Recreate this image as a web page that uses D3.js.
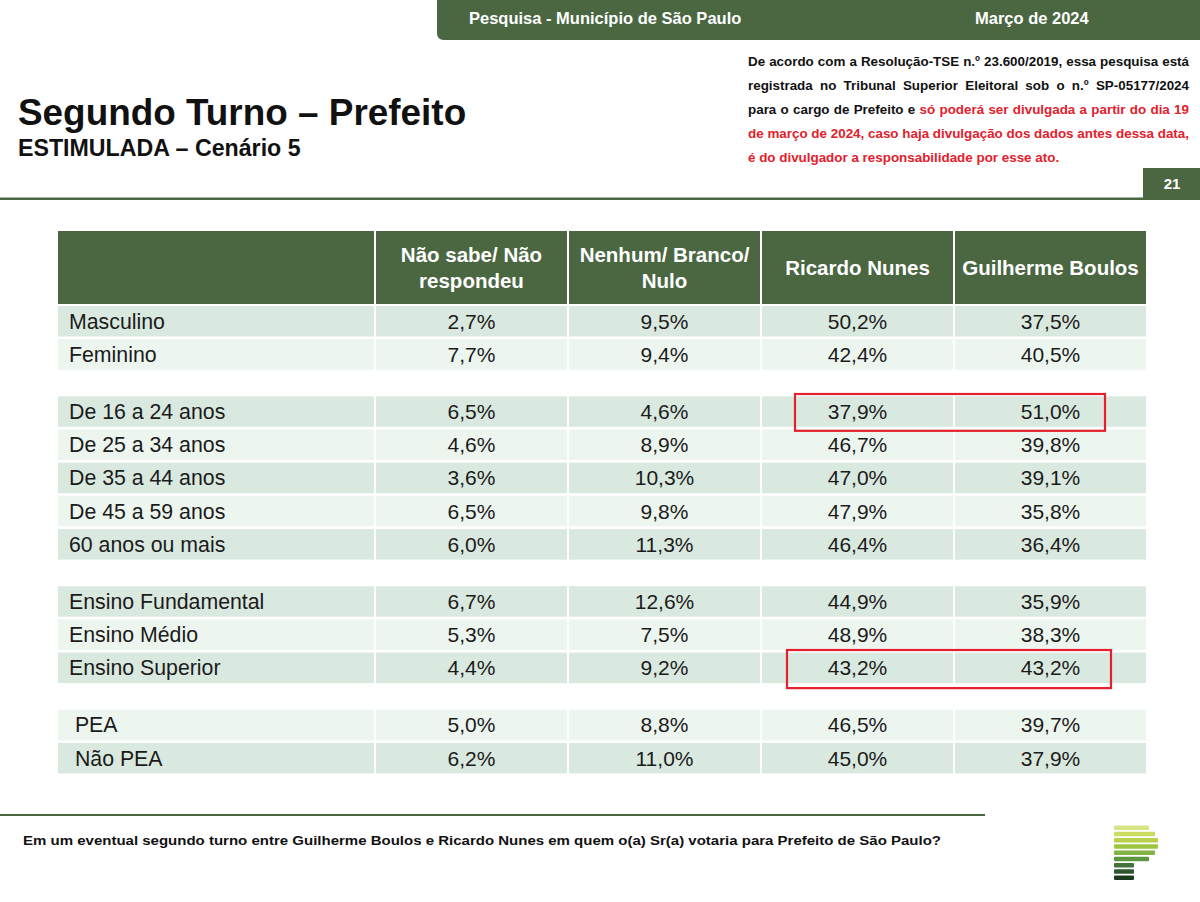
<!DOCTYPE html>
<html>
<head>
<meta charset="utf-8">
<script src="https://cdn.jsdelivr.net/npm/d3@7"></script>
<style>
  html, body { margin: 0; padding: 0; background: #ffffff; }
  svg { display: block; font-family: "Liberation Sans", Arial, sans-serif; }
</style>
</head>
<body>
<svg id="chart" width="1200" height="902"></svg>
<script>
// ---------- DATA ----------
const categories = ["Masculino", "Feminino",
  "De 16 a 24 anos", "De 25 a 34 anos", "De 35 a 44 anos", "De 45 a 59 anos", "60 anos ou mais",
  "Ensino Fundamental", "Ensino Médio", "Ensino Superior",
  " PEA", " Não PEA"];
const groupIndex = [0, 0, 1, 1, 1, 1, 1, 2, 2, 2, 3, 3];
const rowTone = [1, 0, 1, 0, 1, 0, 1, 1, 0, 1, 0, 1];
const seriesNames = ["Não sabe/ Não respondeu", "Nenhum/ Branco/ Nulo", "Ricardo Nunes", "Guilherme Boulos"];
const headerLines = [["Não sabe/ Não", "respondeu"], ["Nenhum/ Branco/", "Nulo"], ["Ricardo Nunes"], ["Guilherme Boulos"]];
const naoSabe = [2.7, 7.7, 6.5, 4.6, 3.6, 6.5, 6.0, 6.7, 5.3, 4.4, 5.0, 6.2];
const nenhum  = [9.5, 9.4, 4.6, 8.9, 10.3, 9.8, 11.3, 12.6, 7.5, 9.2, 8.8, 11.0];
const nunes   = [50.2, 42.4, 37.9, 46.7, 47.0, 47.9, 46.4, 44.9, 48.9, 43.2, 46.5, 45.0];
const boulos  = [37.5, 40.5, 51.0, 39.8, 39.1, 35.8, 36.4, 35.9, 38.3, 43.2, 39.7, 37.9];
const highlightRows = [2, 9];

const title = "Segundo Turno – Prefeito";
const subtitle = "ESTIMULADA – Cenário 5";
const headerLeft = "Pesquisa - Município de São Paulo";
const headerRight = "Março de 2024";
const pageNumber = "21";
const question = "Em um eventual segundo turno entre Guilherme Boulos e Ricardo Nunes em quem o(a) Sr(a) votaria para Prefeito de São Paulo?";
const noticeLines = [
  [{t: "De acordo com a Resolução-TSE n.º 23.600/2019, essa pesquisa está", red: false}],
  [{t: "registrada no Tribunal Superior Eleitoral sob o n.º SP-05177/2024", red: false}],
  [{t: "para o cargo de Prefeito e", red: false}, {t: "só poderá ser divulgada a partir do dia 19", red: true}],
  [{t: "de março de 2024, caso haja divulgação dos dados antes dessa data,", red: true}],
  [{t: "é do divulgador a responsabilidade por esse ato.", red: true}]
];

// ---------- STYLE ----------
const GREEN = "#4a6741";
const TONE = ["#edf5ef", "#dae9df"];
const RED = "#e3202b";
const TEXT = "#1b1b1b";

const svg = d3.select("#chart");
const values = [naoSabe, nenhum, nunes, boulos];
const fmt = v => d3.format(".1f")(v).replace(".", ",") + "%";

// ---------- TOP BAR ----------
const barX = 437, barH = 40, r = 7;
svg.append("path")
  .attr("d", `M${barX},0 H1200 V${barH} H${barX + r} Q${barX},${barH} ${barX},${barH - r} Z`)
  .attr("fill", GREEN);
svg.append("text").attr("x", 469).attr("y", 24)
  .attr("font-size", 16.5).attr("font-weight", "bold").attr("fill", "#fff").text(headerLeft);
svg.append("text").attr("x", 975).attr("y", 24)
  .attr("font-size", 16.5).attr("font-weight", "bold").attr("fill", "#fff").text(headerRight);

// ---------- NOTICE (justified) ----------
const nx0 = 748, nx1 = 1189, nFont = 13.4;
const nBase = d3.scaleLinear().domain([0, 1]).range([66, 90]);
noticeLines.forEach((segs, li) => {
  const words = [];
  segs.forEach(s => s.t.split(" ").forEach(w => words.push({w, red: s.red})));
  const yy = nBase(li);
  const nodes = words.map(d => svg.append("text")
    .attr("y", yy).attr("font-size", nFont).attr("font-weight", "bold")
    .attr("fill", d.red ? RED : "#111").text(d.w));
  const widths = nodes.map(n => n.node().getComputedTextLength());
  const total = d3.sum(widths);
  const justify = li < noticeLines.length - 1;
  const gap = justify ? (nx1 - nx0 - total) / (words.length - 1) : nFont * 0.278;
  let xx = nx0;
  nodes.forEach((n, i) => { n.attr("x", xx); xx += widths[i] + gap; });
});

// ---------- TITLE ----------
svg.append("text").attr("x", 18).attr("y", 125)
  .attr("font-size", 36.9).attr("font-weight", "bold").attr("fill", "#111").text(title);
svg.append("text").attr("x", 18).attr("y", 155.5)
  .attr("font-size", 23.2).attr("font-weight", "bold").attr("fill", "#111").text(subtitle);

// page number box
svg.append("rect").attr("x", 1143).attr("y", 168).attr("width", 57).attr("height", 30).attr("fill", GREEN);
svg.append("text").attr("x", 1172).attr("y", 188.5).attr("text-anchor", "middle")
  .attr("font-size", 15).attr("font-weight", "bold").attr("fill", "#fff").text(pageNumber);

// divider line
svg.append("rect").attr("x", 0).attr("y", 197.5).attr("width", 1200).attr("height", 2.5).attr("fill", GREEN);

// ---------- TABLE ----------
const tableX = 58, labelW = 316;
const x = d3.scaleBand().domain(seriesNames).range([374, 1146]);
const slot = categories.map((c, i) => i + groupIndex[i] * 0.72);
const y = d3.scaleLinear().domain([0, 1]).range([306, 339.2]);
const rowH = 30.5;
const headY = 231, headH = 73;
const cellGap = 2;

// header
const head = svg.append("g");
head.append("rect").attr("x", tableX).attr("y", headY).attr("width", labelW).attr("height", headH).attr("fill", GREEN);
head.selectAll("rect.h").data(seriesNames).join("rect").attr("class", "h")
  .attr("x", d => x(d) + cellGap).attr("y", headY)
  .attr("width", x.step() - cellGap).attr("height", headH).attr("fill", GREEN);
head.selectAll("text.h").data(seriesNames).join("text").attr("class", "h")
  .attr("x", d => x(d) + cellGap + (x.step() - cellGap) / 2)
  .attr("text-anchor", "middle").attr("font-size", 20.5).attr("font-weight", "bold").attr("fill", "#fff")
  .each(function(d, i) {
    const lines = headerLines[i];
    const t = d3.select(this);
    const cy = headY + headH / 2;
    const lh = 26;
    lines.forEach((ln, k) => {
      t.append("tspan").attr("x", x(d) + cellGap + (x.step() - cellGap) / 2)
        .attr("y", cy + 7.5 + (k - (lines.length - 1) / 2) * lh).text(ln);
    });
  });

// body rows
const rows = svg.selectAll("g.row").data(categories).join("g").attr("class", "row")
  .attr("transform", (d, i) => `translate(0,${y(slot[i])})`);
rows.append("rect").attr("x", tableX).attr("y", 0).attr("width", labelW).attr("height", rowH)
  .attr("fill", (d, i) => TONE[rowTone[i]]);
rows.append("text").attr("x", 69).attr("y", rowH / 2 + 7.5)
  .attr("font-size", 21.3).attr("fill", TEXT).style("white-space", "pre").text(d => d);
rows.each(function(d, i) {
  const g = d3.select(this);
  seriesNames.forEach((s, j) => {
    g.append("rect").attr("x", x(s) + cellGap).attr("y", 0)
      .attr("width", x.step() - cellGap).attr("height", rowH).attr("fill", TONE[rowTone[i]]);
    g.append("text").attr("x", x(s) + cellGap + (x.step() - cellGap) / 2).attr("y", rowH / 2 + 7.5)
      .attr("text-anchor", "middle").attr("font-size", 21).attr("fill", TEXT).text(fmt(values[j][i]));
  });
});

// highlight boxes
const boxPad = [{l: 35, r: 41, t: 2.3, b: 4}, {l: 27, r: 35, t: 2.6, b: 5}];
highlightRows.forEach((ri, k) => {
  const p = boxPad[k];
  const x0 = x("Ricardo Nunes") + p.l;
  const x1 = x("Guilherme Boulos") + x.step() - p.r;
  svg.append("rect").attr("x", x0).attr("y", y(slot[ri]) - p.t)
    .attr("width", x1 - x0).attr("height", rowH + p.t + p.b)
    .attr("fill", "none").attr("stroke", RED).attr("stroke-width", 2.2);
});

// ---------- FOOTER ----------
svg.append("rect").attr("x", 0).attr("y", 814).attr("width", 985).attr("height", 2).attr("fill", GREEN);
svg.append("text").attr("x", 23).attr("y", 845).attr("font-size", 13.5).attr("font-weight", "bold")
  .attr("fill", "#111").attr("textLength", 918).attr("lengthAdjust", "spacingAndGlyphs").text(question);

// logo
const logoRight = [1149, 1155, 1158, 1158, 1155, 1149, 1134, 1134, 1134];
const logoCol = ["#d8e386", "#cadd62", "#b5d24a", "#9fc640", "#82b443", "#5f9640", "#44723a", "#2c5530", "#1a3a1f"];
logoRight.forEach((rx, i) => {
  svg.append("rect").attr("x", 1114).attr("y", 825.5 + i * 6.25).attr("width", rx - 1114).attr("height", 4.6)
    .attr("rx", 1).attr("fill", logoCol[i]);
});
</script>
</body>
</html>
